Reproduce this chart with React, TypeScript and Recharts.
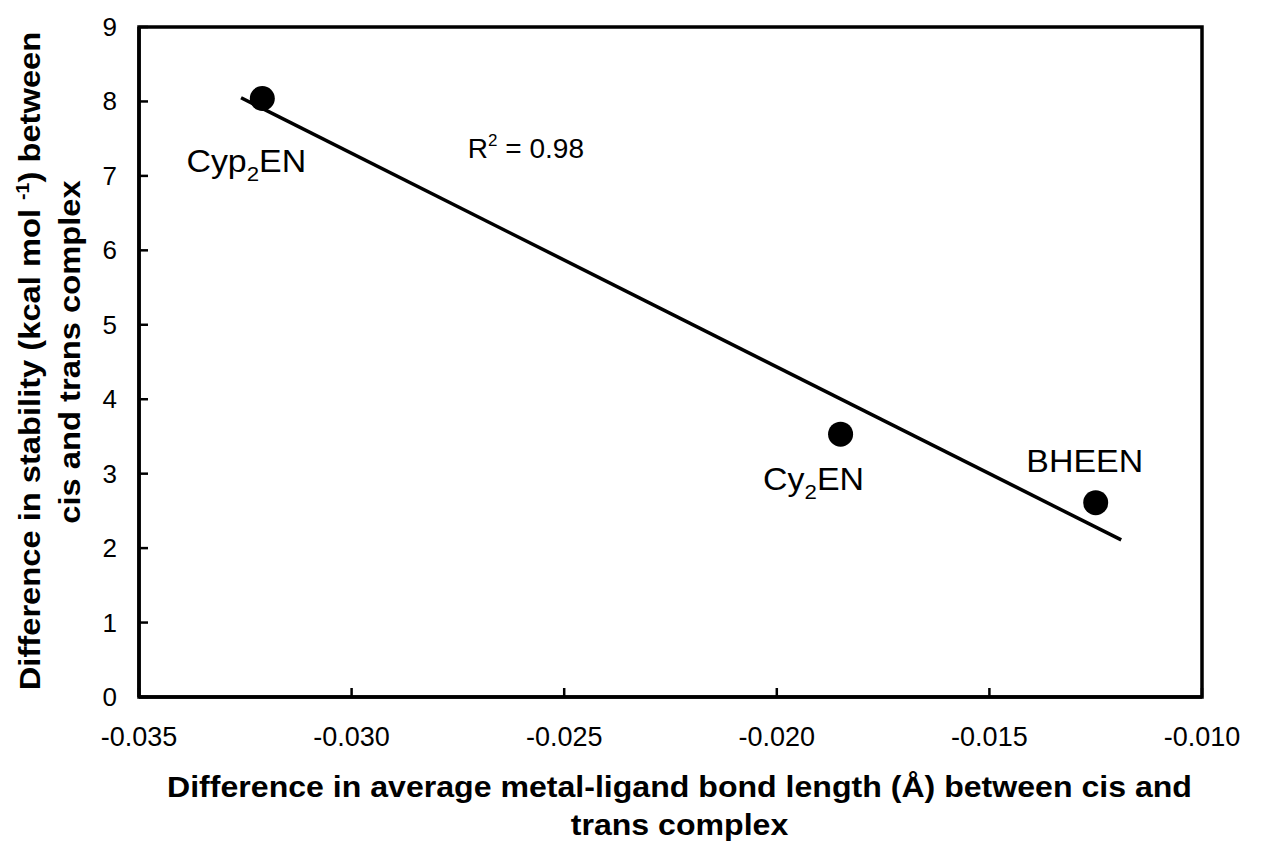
import { ComposedChart, Scatter, Line, XAxis, YAxis, ReferenceArea, ReferenceDot } from "recharts";

// ligand names and their measured values
const ligands = ["Cyp2EN", "Cy2EN", "BHEEN"];
const bondLengthDiff = [-0.0321, -0.0185, -0.0125];
const stabilityDiff = [8.04, 3.53, 2.61];

// end points of the linear fit
const fitX = [-0.0326, -0.0119];
const fitY = [8.05, 2.11];
const rSquared = "0.98";

const xTicks = [-0.035, -0.03, -0.025, -0.02, -0.015, -0.01];
const yTicks = [0, 1, 2, 3, 4, 5, 6, 7, 8, 9];

const FONT = "'Liberation Sans', Arial, sans-serif";

// label offsets from each point (px)
const LABEL_OFFSET: Record<string, { dx: number; dy: number }> = {
  Cyp2EN: { dx: -16, dy: 74 },
  Cy2EN: { dx: -27, dy: 56 },
  BHEEN: { dx: -11, dy: -31 },
};

// where the R² note sits, in data units
const R2_POS = { x: -0.0259, y: 7.24 };

const points = ligands.map((name, i) => ({ name, x: bondLengthDiff[i], y: stabilityDiff[i] }));
const fitData = fitX.map((x, i) => ({ x, y: fitY[i] }));

// text in the original is a little wider than Arial
const stretch = (x: number, y: number, s: number, rot = 0) =>
  `translate(${x}, ${y}) rotate(${rot}) scale(${s}, 1)`;

// "Cyp2EN" -> Cyp<sub>2</sub>EN
const SubName = ({ name, x, y }: { name: string; x: number; y: number }) => {
  const m = name.match(/^(\D+)(\d)(\D+)$/);
  return (
    <text transform={stretch(x, y, 1.06)} textAnchor="middle" fontSize={32} fontFamily={FONT} fill="#000">
      {m ? (
        <>
          <tspan>{m[1]}</tspan>
          <tspan dy={9} fontSize={21}>{m[2]}</tspan>
          <tspan dy={-9}>{m[3]}</tspan>
        </>
      ) : (
        name
      )}
    </text>
  );
};

const PointShape = (props: any) => {
  const { cx, cy, payload } = props;
  const off = LABEL_OFFSET[payload.name] || { dx: 0, dy: -20 };
  return (
    <g>
      <circle cx={cx} cy={cy} r={12.5} fill="#000" />
      <SubName name={payload.name} x={cx + off.dx} y={cy + off.dy} />
    </g>
  );
};

const XTick = (props: any) => {
  const { x, y, payload } = props;
  return (
    <g>
      <line x1={x} y1={y} x2={x} y2={y - 9} stroke="#000" strokeWidth={2.5} />
      <text x={x} y={y + 49} textAnchor="middle" fontSize={27} fontFamily={FONT} fill="#000">
        {payload.value.toFixed(3)}
      </text>
    </g>
  );
};

const YTick = (props: any) => {
  const { x, y, payload } = props;
  return (
    <g>
      <line x1={x} y1={y} x2={x + 9} y2={y} stroke="#000" strokeWidth={2.5} />
      <text x={x - 22} y={y + 9} textAnchor="end" fontSize={26} fontFamily={FONT} fill="#000">
        {payload.value}
      </text>
    </g>
  );
};

const XTitle = (props: any) => {
  const { x, width, y } = props.viewBox;
  const cx = x + width / 2 + 9;
  return (
    <g fontFamily={FONT} fontWeight="bold" fontSize={30} fill="#000" textAnchor="middle">
      <text transform={stretch(cx, y + 100, 1.07)}>
        Difference in average metal-ligand bond length (Å) between cis and
      </text>
      <text transform={stretch(cx, y + 138, 1.07)}>trans complex</text>
    </g>
  );
};

const YTitle = (props: any) => {
  const { y, height } = props.viewBox;
  const cy = y + height / 2;
  return (
    <g fontFamily={FONT} fontWeight="bold" fontSize={30} fill="#000" textAnchor="middle">
      <text transform={stretch(40, cy - 1, 1.09, -90)}>
        Difference in stability (kcal mol <tspan dy={-11} fontSize={18}>-1</tspan>
        <tspan dy={11}>) between</tspan>
      </text>
      <text transform={stretch(80, cy - 10, 1.09, -90)}>cis and trans complex</text>
    </g>
  );
};

const R2Note = (props: any) => {
  const { cx, cy } = props;
  return (
    <text x={cx} y={cy} textAnchor="middle" fontSize={28} fontFamily={FONT} fill="#000">
      R<tspan dy={-12} fontSize={17}>2</tspan>
      <tspan dy={12}> = {rSquared}</tspan>
    </text>
  );
};

export default function App() {
  return (
    <div style={{ position: "absolute", left: 0, top: 0, background: "#fff" }}>
      <ComposedChart
        width={1261}
        height={843}
        data={points}
        margin={{ top: 27, right: 59, bottom: 0, left: 0 }}
      >
        <XAxis
          dataKey="x"
          type="number"
          domain={[-0.035, -0.01]}
          ticks={xTicks}
          interval={0}
          allowDataOverflow
          height={146}
          tickSize={0}
          tickMargin={0}
          tickLine={false}
          tick={<XTick />}
          axisLine={{ stroke: "#000", strokeWidth: 3.5 }}
          label={{ content: <XTitle /> } as any}
        />
        <YAxis
          dataKey="y"
          type="number"
          domain={[0, 9]}
          ticks={yTicks}
          interval={0}
          allowDataOverflow
          width={139}
          tickSize={0}
          tickMargin={0}
          tickLine={false}
          tick={<YTick />}
          axisLine={{ stroke: "#000", strokeWidth: 3.5 }}
          label={{ content: <YTitle /> } as any}
        />
        <ReferenceArea
          x1={xTicks[0]}
          x2={xTicks[xTicks.length - 1]}
          y1={yTicks[0]}
          y2={yTicks[yTicks.length - 1]}
          fill="none"
          fillOpacity={0}
          stroke="#000"
          strokeWidth={3.5}
          strokeOpacity={1}
        />
        <Line
          data={fitData}
          dataKey="y"
          type="linear"
          stroke="#000"
          strokeWidth={3.5}
          dot={false}
          activeDot={false}
          isAnimationActive={false}
        />
        <Scatter data={points} dataKey="y" shape={<PointShape />} isAnimationActive={false} />
        <ReferenceDot x={R2_POS.x} y={R2_POS.y} r={0} shape={<R2Note />} />
      </ComposedChart>
    </div>
  );
}
